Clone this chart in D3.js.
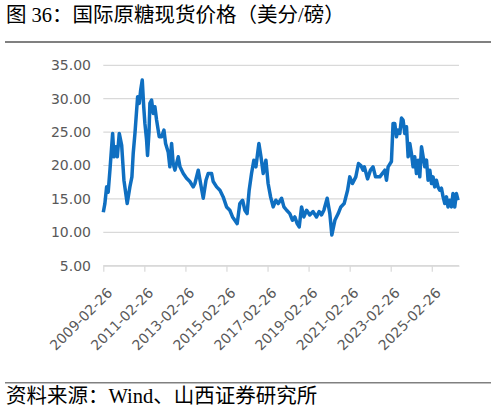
<!DOCTYPE html>
<html lang="zh">
<head>
<meta charset="utf-8">
<title>国际原糖现货价格</title>
<script src="https://d3js.org/d3.v7.min.js"></script>
<style>
  body { margin: 0; background: #fff; }
  .cjk { font-family: "Liberation Serif", "Noto Sans CJK SC", serif; }
</style>
</head>
<body>
<div id="chart"></div>
<script>
// values (US cents / lb)
var dates = [
  "2009-02-26","2009-03-26","2009-04-26","2009-05-24","2009-06-24","2009-08-11","2009-09-04","2009-10-09",
  "2009-11-02","2009-12-07","2010-01-19","2010-02-28","2010-04-27","2010-06-14","2010-07-20","2010-08-12",
  "2010-09-12","2010-10-12","2010-10-30","2010-11-28","2010-12-23","2011-01-20","2011-02-15","2011-03-08",
  "2011-04-07","2011-04-24","2011-05-20","2011-06-05","2011-07-05","2011-08-03","2011-09-02","2011-10-02",
  "2011-11-18","2011-12-30",
  "2012-02-10","2012-03-10","2012-04-26","2012-05-25","2012-06-25","2012-07-23","2012-08-23","2012-10-21",
  "2012-11-21","2013-01-19","2013-03-18","2013-05-16","2013-07-14","2013-08-14","2013-10-12","2013-11-23",
  "2014-01-09","2014-02-27","2014-04-07","2014-06-07","2014-07-05","2014-09-04","2014-11-02","2014-12-30",
  "2015-02-28","2015-04-27","2015-06-14","2015-07-25","2015-09-05","2015-10-22","2015-12-10","2016-01-20",
  "2016-02-28","2016-04-05","2016-05-17","2016-06-28","2016-08-03","2016-09-25","2016-11-01","2016-12-11",
  "2017-01-28","2017-03-08","2017-04-21","2017-06-06","2017-07-24","2017-09-04","2017-11-03","2017-12-14",
  "2018-02-01","2018-03-29","2018-05-16","2018-06-26","2018-08-07","2018-09-12","2018-10-24","2018-12-04",
  "2019-01-22","2019-03-19","2019-05-17","2019-07-17","2019-09-02","2019-10-14","2019-11-25","2020-01-23",
  "2020-03-10","2020-04-15","2020-06-08","2020-08-06",
  "2020-09-22","2020-11-20","2021-01-20","2021-02-28","2021-04-17","2021-06-15","2021-08-02","2021-09-13",
  "2021-10-23","2021-11-15","2022-01-10","2022-03-03","2022-04-18","2022-06-01","2022-08-16","2022-11-13",
  "2022-12-13","2023-01-11","2023-03-11","2023-04-09","2023-05-09","2023-06-08","2023-07-07","2023-08-07",
  "2023-09-06","2023-10-04","2023-11-04","2023-12-04","2024-01-02","2024-02-01","2024-03-01","2024-03-30",
  "2024-04-29","2024-05-29","2024-06-27","2024-07-27","2024-08-27","2024-09-25","2024-10-25","2024-11-24",
  "2024-12-22","2025-01-22","2025-02-21","2025-03-20","2025-04-19","2025-05-19","2025-06-17","2025-07-17",
  "2025-08-17","2025-09-15","2025-10-15","2025-11-14","2025-12-12","2026-01-12","2026-02-11","2026-03-10",
  "2026-04-10","2026-05-10","2026-06-08"
];
var prices = [
  13.0, 14.3, 16.8, 16.0, 19.3, 24.8, 21.3, 22.8,
  21.3, 24.8, 23.0, 17.8, 14.3, 16.8, 18.3, 21.8,
  24.8, 28.3, 30.3, 29.3, 31.3, 32.8, 28.8, 26.3,
  23.8, 21.5, 25.0, 29.3, 29.8, 27.8, 28.8, 26.8,
  24.3, 24.3,
  25.3, 23.3, 22.0, 19.8, 23.3, 20.3, 19.3, 21.3,
  19.8, 18.8, 18.1, 17.6, 16.8, 17.3, 19.3, 17.3,
  15.1, 17.8, 18.8, 18.8, 17.6, 16.8, 16.3, 15.3,
  13.8, 13.3, 12.3, 11.8, 11.3, 14.3, 14.8, 13.3,
  12.8, 16.3, 18.8, 20.8, 19.8, 23.3, 21.3, 18.8,
  20.8, 17.3, 15.3, 13.8, 14.8, 14.3, 15.1, 13.8,
  13.3, 12.8, 11.8, 12.3, 11.3, 10.8, 13.8, 12.3,
  13.3, 12.6, 13.1, 12.3, 13.1, 12.6, 13.3, 15.1,
  12.8, 9.6, 11.8, 12.8,
  13.8, 14.3, 16.3, 18.3, 17.3, 18.3, 20.3, 20.0,
  19.3, 19.8, 18.0, 19.3, 19.8, 18.3, 18.3, 19.3,
  17.8, 19.8, 20.6, 26.3, 26.3, 24.3, 25.3, 24.8,
  27.1, 26.8, 24.8, 25.8, 21.3, 23.3, 21.8, 19.8,
  21.3, 18.8, 20.8, 18.3, 22.8, 21.3, 19.8, 20.8,
  17.8, 19.3, 17.3, 18.3, 16.8, 17.8, 16.8, 16.3,
  16.6, 15.3, 14.3, 15.3, 13.8, 14.8, 13.8, 15.8,
  13.8, 15.8, 14.8
];
var yTicks = [5, 10, 15, 20, 25, 30, 35];
var xTickLabels = ["2009-02-26","2011-02-26","2013-02-26","2015-02-26","2017-02-26",
                   "2019-02-26","2021-02-26","2023-02-26","2025-02-26"];
var title = "图 36：国际原糖现货价格（美分/磅）";
var source = "资料来源：Wind、山西证券研究所";

var W = 496, H = 412;
var parse = d3.timeParse("%Y-%m-%d");
var n = Math.min(dates.length, prices.length);
var data = d3.range(n).map(function (i) { return { date: parse(dates[i]), value: prices[i] }; });

var svg = d3.select("#chart").append("svg")
  .attr("width", W).attr("height", H);

var x = d3.scaleTime()
  .domain([parse("2009-02-26"), parse("2026-06-25")])
  .range([103.3, 459]);
var y = d3.scaleLinear().domain([5, 35]).range([265.7, 65.3]);

// title + rules
svg.append("text").attr("class", "cjk")
  .attr("x", 6).attr("y", 22)
  .style("font-size", "20.5px").attr("fill", "#000")
  .text(title);
svg.append("line").attr("x1", 5).attr("x2", 491).attr("y1", 42).attr("y2", 42)
  .attr("stroke", "#808080").attr("stroke-width", 2);
svg.append("line").attr("x1", 5).attr("x2", 491).attr("y1", 382.7).attr("y2", 382.7)
  .attr("stroke", "#808080").attr("stroke-width", 1.5);
svg.append("text").attr("class", "cjk")
  .attr("x", 6).attr("y", 403)
  .style("font-size", "20.5px").attr("fill", "#000")
  .text(source);

// grid
svg.append("g").selectAll("line")
  .data(yTicks).join("line")
  .attr("x1", x.range()[0]).attr("x2", x.range()[1])
  .attr("y1", function (d) { return y(d); }).attr("y2", function (d) { return y(d); })
  .attr("stroke", "#d9d9d9").attr("stroke-width", 1.2);

// y axis labels
var yAxis = d3.axisLeft(y).tickValues(yTicks).tickFormat(d3.format(".2f")).tickSize(0).tickPadding(0);
var gy = svg.append("g").attr("transform", "translate(91,0)").call(yAxis);
gy.select(".domain").remove();
gy.selectAll("text")
  .style("font-family", "DejaVu Sans").style("font-size", "14px").attr("fill", "#595959");

// x axis
var xAxis = d3.axisBottom(x)
  .tickValues(xTickLabels.map(parse))
  .tickFormat(d3.timeFormat("%Y-%m-%d"))
  .tickSizeInner(6).tickSizeOuter(0).tickPadding(0);
var gx = svg.append("g").attr("transform", "translate(0," + y(5) + ")").call(xAxis);
gx.select(".domain").attr("stroke", "#d9d9d9").attr("stroke-width", 1.2);
gx.selectAll(".tick line").attr("stroke", "#d9d9d9").attr("stroke-width", 1.2);
gx.selectAll(".tick text")
  .style("font-family", "DejaVu Sans").style("font-size", "14px").attr("fill", "#595959")
  .attr("text-anchor", "end")
  .attr("x", 0).attr("y", 0).attr("dy", 0)
  .attr("transform", "translate(9.5,28) rotate(-45)");

// price line
var line = d3.line()
  .x(function (d) { return x(d.date); })
  .y(function (d) { return y(d.value); });
svg.append("path").datum(data)
  .attr("d", line)
  .attr("fill", "none")
  .attr("stroke", "#0f6fc1")
  .attr("stroke-width", 3.5)
  .attr("stroke-linejoin", "round");
</script>
</body>
</html>
